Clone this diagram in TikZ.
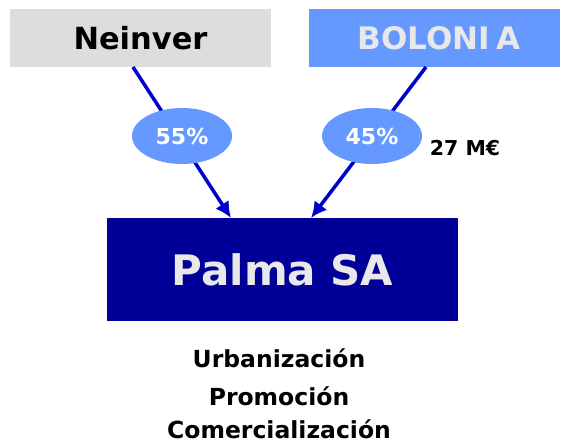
\documentclass[tikz,border=0pt]{standalone}
\usepackage{fontspec}
\setmainfont{DejaVu Sans}
\usetikzlibrary{shapes.geometric,arrows.meta}
\definecolor{boxgray}{HTML}{DDDDDD}
\definecolor{lightblue}{HTML}{6699FF}
\definecolor{darkblue}{HTML}{000099}
\definecolor{linkblue}{HTML}{0000CC}
\definecolor{paletext}{HTML}{E8E8E8}
\begin{document}
\begin{tikzpicture}[x=1pt,y=-1pt,
  topbox/.style={rectangle,anchor=north west,inner sep=0pt,outer sep=0pt},
  pct/.style={ellipse,fill=lightblue,inner sep=0pt,minimum width=100pt,minimum height=56pt,
    text=white,font=\fontsize{22}{26}\selectfont\bfseries},
  link/.style={draw=linkblue,line width=3.5pt,-{Latex[length=16pt,width=16pt]}},
  act/.style={anchor=base,inner sep=0pt,font=\fontsize{23.5}{28}\selectfont\bfseries}]
\useasboundingbox (0,0) rectangle (563,444);
\fill[white] (0,0) rectangle (563,444);
\node[topbox,fill=boxgray,minimum width=261pt,minimum height=58pt,
  font=\fontsize{30.5}{36}\selectfont\bfseries] (neinver) at (10,9) {Neinver};
\node[topbox,fill=lightblue,minimum width=251pt,minimum height=58pt,text=paletext,
  font=\fontsize{31}{37}\selectfont\bfseries] (bolonia) at (309,9) {\hspace*{9pt}BOLONI\kern6pt A};
\node[topbox,fill=darkblue,minimum width=351pt,minimum height=103pt,text=paletext,
  font=\fontsize{42}{50}\selectfont\bfseries] (palma) at (107,218) {Palma SA};
\draw[link] ([xshift=123pt]neinver.south west) -- ([xshift=124pt]palma.north west);
\draw[link] ([xshift=117pt]bolonia.south west) -- ([xshift=204pt]palma.north west);
\node[pct] (p55) at (182,136) {55\%};
\node[pct] (p45) at (372,136) {45\%};
\node[anchor=base,inner sep=0pt,font=\fontsize{20.5}{24}\selectfont\bfseries] (money) at (465,156) {27 M€};
\node[act] (urb) at (279,367) {Urbanización};
\node[act] (pro) at (279,405) {Promoción};
\node[act] (com) at (279,438) {Comercialización};
\end{tikzpicture}
\end{document}
